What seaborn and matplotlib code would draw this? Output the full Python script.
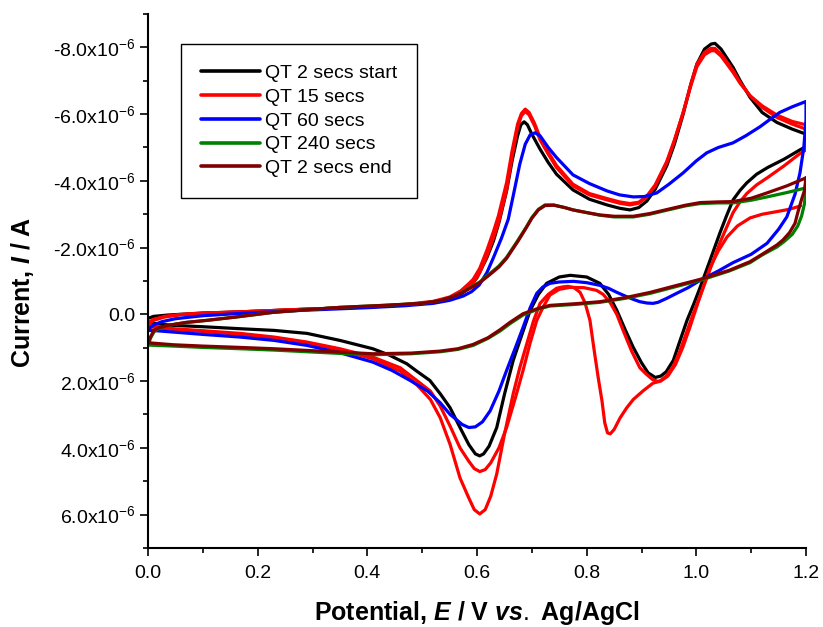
import matplotlib
matplotlib.use("Agg")
import matplotlib.pyplot as plt
import pandas as pd
import seaborn as sns
from matplotlib.ticker import MultipleLocator, FuncFormatter
from matplotlib.lines import Line2D

# ---------------- data (E in V, I in micro-ampere) ----------------
SERIES = ["QT 2 secs start", "QT 15 secs", "QT 60 secs", "QT 240 secs", "QT 2 secs end"]
COLORS = ["#000000", "#ff0000", "#0000ff", "#008000", "#800000"]

BLACK_FWD = [(0.000, 0.12), (0.010, 0.06), (0.036, 0.02), (0.100, -0.04), (0.160, -0.07),
             (0.280, -0.15), (0.400, -0.22), (0.470, -0.28), (0.520, -0.36), (0.550, -0.46),
             (0.570, -0.60), (0.585, -0.78), (0.600, -1.10), (0.618, -1.70), (0.630, -2.20),
             (0.640, -2.75), (0.654, -3.70), (0.664, -4.60), (0.674, -5.35), (0.680, -5.68),
             (0.686, -5.77), (0.692, -5.68), (0.700, -5.40), (0.715, -4.95), (0.730, -4.55),
             (0.745, -4.20), (0.775, -3.73), (0.805, -3.45), (0.837, -3.28), (0.860, -3.18),
             (0.879, -3.13), (0.895, -3.20), (0.910, -3.40), (0.925, -3.75), (0.946, -4.45),
             (0.960, -5.10), (0.976, -6.00), (0.990, -6.90), (1.001, -7.50), (1.015, -7.95),
             (1.027, -8.10), (1.034, -8.12), (1.045, -7.95), (1.055, -7.70), (1.067, -7.40),
             (1.080, -7.00), (1.098, -6.50), (1.120, -6.05), (1.147, -5.75), (1.175, -5.55),
             (1.200, -5.40)]
BLACK_REV = [(1.200, -5.03), (1.189, -4.93), (1.160, -4.65), (1.130, -4.40), (1.110, -4.20),
             (1.092, -3.94), (1.080, -3.72), (1.067, -3.43), (1.055, -2.95), (1.043, -2.44),
             (1.025, -1.62), (1.007, -0.81), (0.995, -0.30), (0.983, 0.18), (0.970, 0.80),
             (0.958, 1.38), (0.945, 1.72), (0.935, 1.85), (0.925, 1.89), (0.912, 1.75),
             (0.900, 1.45), (0.885, 0.99), (0.870, 0.45), (0.855, -0.12), (0.840, -0.60),
             (0.824, -0.93), (0.800, -1.12), (0.770, -1.17), (0.750, -1.12), (0.727, -0.93),
             (0.712, -0.60), (0.697, -0.12), (0.682, 0.60), (0.666, 1.38), (0.650, 2.40),
             (0.636, 3.39), (0.622, 3.95), (0.612, 4.18), (0.605, 4.24), (0.597, 4.18),
             (0.585, 3.90), (0.569, 3.39), (0.551, 2.80), (0.533, 2.38), (0.514, 1.98),
             (0.490, 1.70), (0.472, 1.48), (0.440, 1.22), (0.410, 1.03), (0.350, 0.78),
             (0.290, 0.57), (0.230, 0.48), (0.168, 0.43), (0.100, 0.37), (0.046, 0.33),
             (0.015, 0.28), (0.000, 0.24)]

RED_FWD_1 = [(0.000, 0.25), (0.010, 0.15), (0.030, 0.06), (0.060, 0.00), (0.100, -0.04),
             (0.160, -0.07), (0.280, -0.15), (0.400, -0.22), (0.470, -0.29), (0.520, -0.37),
             (0.550, -0.48), (0.570, -0.64), (0.585, -0.85), (0.593, -0.95), (0.605, -1.25),
             (0.618, -1.75), (0.630, -2.30), (0.639, -2.73), (0.654, -3.73), (0.664, -4.73),
             (0.674, -5.60), (0.681, -5.95), (0.688, -6.08), (0.695, -5.98), (0.705, -5.65),
             (0.715, -5.23), (0.730, -4.80), (0.745, -4.40), (0.775, -3.85), (0.805, -3.58),
             (0.837, -3.43), (0.860, -3.33), (0.879, -3.28), (0.895, -3.33), (0.910, -3.52),
             (0.925, -3.85), (0.946, -4.54), (0.960, -5.20), (0.976, -6.05), (0.990, -6.90),
             (1.001, -7.50), (1.015, -7.85), (1.027, -7.97), (1.034, -7.97), (1.045, -7.80),
             (1.055, -7.58), (1.067, -7.30), (1.080, -6.95), (1.098, -6.55), (1.120, -6.20),
             (1.147, -5.90), (1.175, -5.70), (1.200, -5.55)]
RED_REV_1 = [(1.200, -4.93), (1.189, -4.82), (1.160, -4.45), (1.130, -4.10), (1.110, -3.88),
             (1.092, -3.62), (1.080, -3.38), (1.067, -3.05), (1.055, -2.60), (1.043, -2.15),
             (1.025, -1.35), (1.007, -0.55), (0.995, -0.05), (0.983, 0.50), (0.970, 1.10),
             (0.958, 1.55), (0.945, 1.85), (0.935, 1.98), (0.930, 2.01), (0.920, 1.95),
             (0.908, 1.78), (0.897, 1.60), (0.882, 1.10), (0.867, 0.50), (0.855, 0.00),
             (0.843, -0.35), (0.830, -0.60), (0.818, -0.72), (0.795, -0.80), (0.770, -0.81),
             (0.750, -0.75), (0.733, -0.58), (0.720, -0.20), (0.709, 0.18), (0.697, 0.85),
             (0.684, 1.68), (0.670, 2.50), (0.654, 3.39), (0.640, 4.00), (0.625, 4.45),
             (0.615, 4.65), (0.605, 4.71), (0.595, 4.62), (0.585, 4.40), (0.569, 4.00),
             (0.551, 3.35), (0.533, 2.75), (0.515, 2.30), (0.490, 1.98), (0.460, 1.60),
             (0.410, 1.28), (0.350, 1.03), (0.290, 0.83), (0.230, 0.68), (0.168, 0.57),
             (0.100, 0.49), (0.046, 0.43), (0.015, 0.37), (0.000, 0.33)]
RED_FWD_2 = [(0.000, 0.30), (0.010, 0.18), (0.030, 0.08), (0.060, 0.01), (0.100, -0.03),
             (0.160, -0.07), (0.280, -0.15), (0.400, -0.22), (0.470, -0.30), (0.520, -0.39),
             (0.550, -0.52), (0.570, -0.70), (0.585, -0.92), (0.593, -1.05), (0.605, -1.38),
             (0.618, -1.92), (0.630, -2.48), (0.639, -2.95), (0.654, -3.95), (0.664, -4.90),
             (0.674, -5.70), (0.681, -6.02), (0.688, -6.15), (0.695, -6.05), (0.705, -5.72),
             (0.715, -5.30), (0.730, -4.86), (0.745, -4.46), (0.775, -3.90), (0.805, -3.62),
             (0.837, -3.47), (0.860, -3.37), (0.879, -3.32), (0.895, -3.36), (0.910, -3.55),
             (0.925, -3.88), (0.946, -4.58), (0.960, -5.22), (0.976, -6.05), (0.990, -6.85),
             (1.001, -7.42), (1.015, -7.78), (1.027, -7.90), (1.034, -7.90), (1.045, -7.74),
             (1.055, -7.52), (1.067, -7.25), (1.080, -6.92), (1.098, -6.55), (1.120, -6.25),
             (1.147, -5.97), (1.175, -5.78), (1.200, -5.68)]
RED_REV_2 = [(1.190, -3.25), (1.170, -3.15), (1.147, -3.08), (1.120, -3.00), (1.098, -2.89),
             (1.075, -2.65), (1.056, -2.32), (1.040, -1.90), (1.025, -1.40), (1.012, -0.80),
             (1.000, -0.20), (0.988, 0.40), (0.975, 1.00), (0.962, 1.50), (0.948, 1.85),
             (0.935, 2.00), (0.921, 2.06), (0.903, 2.29), (0.885, 2.55), (0.873, 2.80),
             (0.861, 3.10), (0.850, 3.45), (0.843, 3.58), (0.838, 3.55), (0.833, 3.25),
             (0.828, 2.60), (0.821, 1.89), (0.813, 1.00), (0.806, 0.18), (0.797, -0.35),
             (0.788, -0.66), (0.777, -0.80), (0.766, -0.84), (0.755, -0.82), (0.745, -0.78),
             (0.730, -0.60), (0.715, -0.33), (0.703, 0.20), (0.691, 0.87), (0.678, 1.60),
             (0.666, 2.38), (0.650, 3.60), (0.636, 4.78), (0.625, 5.45), (0.615, 5.85),
             (0.605, 5.98), (0.595, 5.85), (0.585, 5.50), (0.569, 4.90), (0.551, 3.90),
             (0.533, 3.10), (0.515, 2.55), (0.490, 2.10), (0.460, 1.70), (0.410, 1.33),
             (0.350, 1.06), (0.290, 0.85), (0.230, 0.70), (0.168, 0.60), (0.100, 0.51),
             (0.046, 0.45), (0.015, 0.40), (0.000, 0.36)]

BLUE_FWD = [(0.000, 0.45), (0.010, 0.32), (0.025, 0.22), (0.050, 0.13), (0.100, 0.04),
            (0.160, -0.02), (0.280, -0.12), (0.400, -0.20), (0.470, -0.26), (0.520, -0.33),
            (0.550, -0.42), (0.575, -0.55), (0.590, -0.68), (0.604, -0.88), (0.618, -1.25),
            (0.630, -1.70), (0.645, -2.30), (0.657, -2.85), (0.666, -3.55), (0.678, -4.50),
            (0.688, -5.10), (0.697, -5.38), (0.706, -5.44), (0.715, -5.35), (0.730, -5.00),
            (0.745, -4.70), (0.775, -4.18), (0.805, -3.92), (0.837, -3.70), (0.860, -3.58),
            (0.885, -3.52), (0.905, -3.53), (0.928, -3.64), (0.950, -3.90), (0.976, -4.24),
            (1.000, -4.60), (1.019, -4.84), (1.040, -5.00), (1.067, -5.14), (1.090, -5.35),
            (1.116, -5.62), (1.135, -5.85), (1.152, -6.05), (1.175, -6.22), (1.200, -6.38)]
BLUE_REV = [(1.200, -5.83), (1.196, -5.00), (1.189, -4.24), (1.180, -3.60), (1.165, -2.92),
            (1.150, -2.55), (1.129, -2.13), (1.100, -1.80), (1.067, -1.55), (1.040, -1.30),
            (1.007, -1.02), (0.985, -0.80), (0.964, -0.63), (0.946, -0.48), (0.930, -0.36),
            (0.921, -0.33), (0.910, -0.34), (0.897, -0.38), (0.885, -0.45), (0.873, -0.53),
            (0.855, -0.66), (0.840, -0.78), (0.824, -0.87), (0.800, -0.95), (0.776, -0.99),
            (0.750, -0.97), (0.733, -0.93), (0.720, -0.82), (0.709, -0.63), (0.697, -0.20),
            (0.684, 0.39), (0.670, 1.00), (0.654, 1.68), (0.640, 2.30), (0.624, 2.89),
            (0.610, 3.22), (0.597, 3.37), (0.585, 3.39), (0.573, 3.30), (0.560, 3.12),
            (0.551, 3.00), (0.533, 2.65), (0.510, 2.30), (0.478, 1.98), (0.445, 1.68),
            (0.410, 1.43), (0.350, 1.15), (0.290, 0.93), (0.230, 0.78), (0.168, 0.68),
            (0.100, 0.60), (0.046, 0.53), (0.015, 0.49), (0.000, 0.48)]

GREEN_FWD = [(0.000, 0.92), (0.005, 0.70), (0.011, 0.52), (0.020, 0.42), (0.036, 0.33),
             (0.070, 0.24), (0.107, 0.18), (0.160, 0.08), (0.228, -0.06), (0.290, -0.14),
             (0.350, -0.21), (0.430, -0.27), (0.500, -0.33), (0.535, -0.42), (0.563, -0.57),
             (0.585, -0.78), (0.605, -0.97), (0.624, -1.23), (0.640, -1.45), (0.654, -1.71),
             (0.675, -2.23), (0.690, -2.62), (0.700, -2.90), (0.712, -3.15), (0.724, -3.28),
             (0.740, -3.28), (0.760, -3.20), (0.775, -3.13), (0.800, -3.05), (0.824, -2.97),
             (0.850, -2.92), (0.885, -2.92), (0.915, -3.00), (0.946, -3.12), (0.980, -3.25),
             (1.007, -3.32), (1.040, -3.34), (1.067, -3.34), (1.100, -3.42), (1.129, -3.52),
             (1.165, -3.65), (1.200, -3.79)]
GREEN_REV = [(1.200, -3.75), (1.197, -3.30), (1.192, -2.95), (1.185, -2.65), (1.175, -2.40),
             (1.160, -2.18), (1.147, -2.02), (1.120, -1.78), (1.098, -1.55), (1.060, -1.30),
             (1.007, -1.02), (0.960, -0.82), (0.916, -0.63), (0.870, -0.48), (0.824, -0.36),
             (0.780, -0.30), (0.733, -0.25), (0.710, -0.15), (0.684, 0.02), (0.660, 0.28),
             (0.642, 0.50), (0.620, 0.72), (0.593, 0.93), (0.565, 1.05), (0.533, 1.12),
             (0.480, 1.18), (0.410, 1.21), (0.350, 1.17), (0.290, 1.12), (0.230, 1.07),
             (0.168, 1.03), (0.100, 0.99), (0.046, 0.95), (0.000, 0.92)]

BROWN_FWD = [(0.000, 0.85), (0.005, 0.66), (0.011, 0.48), (0.020, 0.40), (0.036, 0.33),
             (0.070, 0.24), (0.107, 0.18), (0.160, 0.08), (0.228, -0.06), (0.290, -0.14),
             (0.350, -0.21), (0.430, -0.27), (0.500, -0.33), (0.535, -0.42), (0.563, -0.57),
             (0.585, -0.76), (0.605, -0.95), (0.624, -1.20), (0.640, -1.42), (0.654, -1.68),
             (0.675, -2.20), (0.690, -2.60), (0.700, -2.88), (0.712, -3.13), (0.724, -3.26),
             (0.740, -3.27), (0.760, -3.20), (0.775, -3.13), (0.800, -3.05), (0.824, -2.98),
             (0.850, -2.94), (0.885, -2.94), (0.915, -3.02), (0.946, -3.14), (0.980, -3.27),
             (1.007, -3.35), (1.040, -3.37), (1.067, -3.38), (1.100, -3.48), (1.129, -3.64),
             (1.165, -3.85), (1.200, -4.09)]
BROWN_REV = [(1.200, -4.10), (1.197, -3.70), (1.192, -3.45), (1.185, -3.05), (1.180, -2.73),
             (1.170, -2.45), (1.158, -2.23), (1.147, -2.08), (1.120, -1.80), (1.098, -1.58),
             (1.060, -1.32), (1.007, -1.05), (0.960, -0.85), (0.916, -0.66), (0.870, -0.50),
             (0.824, -0.38), (0.780, -0.32), (0.733, -0.27), (0.710, -0.17), (0.684, -0.02),
             (0.660, 0.24), (0.642, 0.46), (0.620, 0.70), (0.593, 0.90), (0.565, 1.03),
             (0.533, 1.10), (0.480, 1.16), (0.410, 1.18), (0.350, 1.13), (0.290, 1.08),
             (0.230, 1.03), (0.168, 0.99), (0.100, 0.95), (0.046, 0.91), (0.000, 0.85)]

X_TICKS = [0.0, 0.2, 0.4, 0.6, 0.8, 1.0, 1.2]
Y_TICKS_UA = [-8, -6, -4, -2, 0, 2, 4, 6]

# ---------------- build long table ----------------
rows = []


def add(name, seg, pts):
    for e, i in pts:
        rows.append((name, seg, e, i * 1e-6))


add(SERIES[0], 0, BLACK_FWD + BLACK_REV)
add(SERIES[1], 1, RED_FWD_1 + RED_REV_1)
add(SERIES[1], 2, RED_FWD_2)
add(SERIES[1], 3, RED_REV_2)
add(SERIES[2], 4, BLUE_FWD + BLUE_REV)
add(SERIES[3], 5, GREEN_FWD + GREEN_REV)
add(SERIES[4], 6, BROWN_FWD + BROWN_REV)
df = pd.DataFrame(rows, columns=["series", "seg", "E", "I"])

# ---------------- style ----------------
sns.set_style("ticks")
plt.rcParams["font.family"] = ["Liberation Sans", "DejaVu Sans"]
plt.rcParams["mathtext.fontset"] = "custom"
plt.rcParams["mathtext.rm"] = "Liberation Sans"
plt.rcParams["mathtext.it"] = "Liberation Sans:italic:bold"
plt.rcParams["mathtext.bf"] = "Liberation Sans:bold"
plt.rcParams["text.color"] = "black"
plt.rcParams["axes.labelcolor"] = "black"
plt.rcParams["xtick.color"] = "black"
plt.rcParams["ytick.color"] = "black"
plt.rcParams["axes.edgecolor"] = "black"

fig = plt.figure(figsize=(8.23, 6.27), dpi=100)
ax = fig.add_axes([148 / 823, 1 - 548 / 627, 658 / 823, 534 / 627])

sns.lineplot(data=df, x="E", y="I", hue="series", hue_order=SERIES, palette=COLORS,
             units="seg", estimator=None, sort=False, linewidth=2.3, legend=False,
             ax=ax, solid_joinstyle="round", solid_capstyle="round")

ax.set_xlim(0.0, 1.2)
ax.set_ylim(7e-6, -9e-6)
sns.despine(ax=ax)
for s in ("left", "bottom"):
    ax.spines[s].set_linewidth(1.5)
    ax.spines[s].set_color("black")

ax.set_xticks(X_TICKS)
ax.xaxis.set_minor_locator(MultipleLocator(0.1))
ax.set_yticks([v * 1e-6 for v in Y_TICKS_UA])
ax.yaxis.set_minor_locator(MultipleLocator(1e-6))
ax.xaxis.set_major_formatter(FuncFormatter(lambda v, p: f"{v:.1f}"))


def yfmt(v, p):
    m = round(v * 1e6, 1)
    if abs(m) < 1e-9:
        return "0.0"
    return f"{m:.1f}x10$^{{-6}}$"


ax.yaxis.set_major_formatter(FuncFormatter(yfmt))
ax.tick_params(axis="both", which="major", direction="out", length=6, width=1.2,
               labelsize=14, color="black", labelcolor="black", pad=3)
ax.tick_params(axis="x", which="major", pad=6)
ax.tick_params(axis="both", which="minor", direction="out", length=3.5, width=1.2,
               color="black")

ax.set_xlabel(r"Potential, $\mathit{E}$ / V $\mathit{vs.}$ Ag/AgCl", fontsize=18,
              fontweight="bold", color="black")
ax.set_ylabel(r"Current, $\mathit{I}$ / A", fontsize=18, fontweight="bold", color="black")
ax.xaxis.set_label_coords(0.5, -0.095)
ax.yaxis.set_label_coords(-0.170, 0.478)

handles = [Line2D([0], [0], color=c, lw=2.6) for c in COLORS]
leg = ax.legend(handles, SERIES, loc="upper left", bbox_to_anchor=(0.050, 0.944),
                borderaxespad=0, frameon=True, fancybox=False, framealpha=1,
                edgecolor="black", fontsize=14, handlelength=3.0, handletextpad=0.25,
                borderpad=1.05, labelspacing=0.32)
leg.get_frame().set_linewidth(1.0)
for t in leg.get_texts():
    t.set_color("black")

fig.savefig("out.png", dpi=100)
